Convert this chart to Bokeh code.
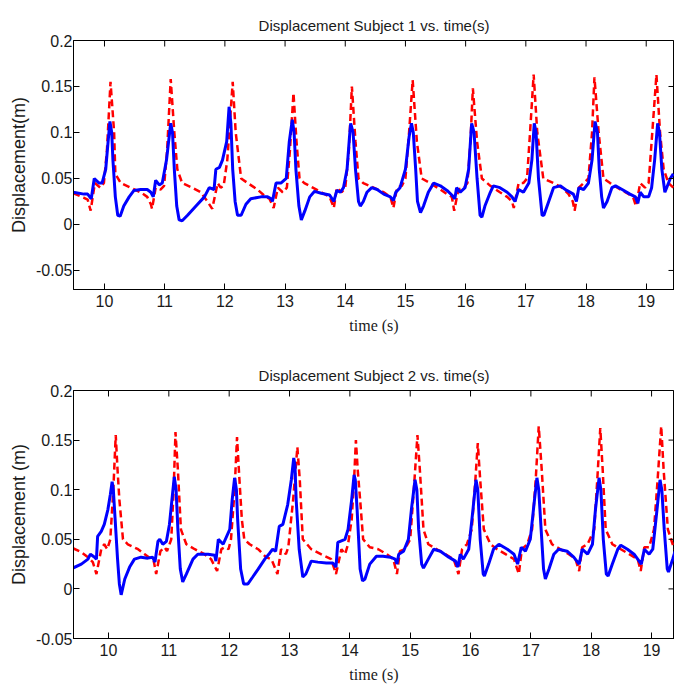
import math
from bokeh.plotting import figure
from bokeh.layouts import column
from bokeh.models import Range1d, FixedTicker
from bokeh.embed import file_html
from bokeh.resources import INLINE

# ---------------- data ----------------
x_ticks = [10, 11, 12, 13, 14, 15, 16, 17, 18, 19]
y_ticks = [-0.05, 0, 0.05, 0.1, 0.15, 0.2]
y_tick_labels = ["-0.05", "0", "0.05", "0.1", "0.15", "0.2"]

titles = ["Displacement Subject 1 vs. time(s)", "Displacement Subject 2 vs. time(s)"]
ylabels = ["Displacement(m)", "Displacement (m)"]
xlabel = "time (s)"

# Subject 1, red dashed
s1_red_t = [9.48, 9.66, 9.72, 9.77, 9.84, 9.93, 9.99, 10.04, 10.10, 10.16, 10.18, 10.27, 10.43, 10.60, 10.71, 10.77, 10.79,
            10.85, 10.93, 10.99, 11.04, 11.10, 11.16, 11.21, 11.29, 11.46, 11.60, 11.71, 11.79,
            11.88, 11.93, 11.98, 12.04, 12.13, 12.18, 12.27, 12.38, 12.54, 12.68, 12.74, 12.81,
            12.88, 12.96, 13.03, 13.08, 13.14, 13.19, 13.24, 13.32, 13.46, 13.60, 13.74, 13.81,
            13.86, 13.94, 14.00, 14.06, 14.11, 14.17, 14.22, 14.30, 14.47, 14.64, 14.75, 14.80,
            14.86, 14.94, 15.00, 15.06, 15.12, 15.19, 15.27, 15.41, 15.58, 15.69, 15.77, 15.81,
            15.88, 15.97, 16.03, 16.08, 16.12, 16.19, 16.27, 16.41, 16.57, 16.69, 16.77, 16.80,
            16.88, 16.96, 17.02, 17.07, 17.13, 17.19, 17.29, 17.46, 17.60, 17.71, 17.78, 17.81,
            17.88, 17.96, 18.04, 18.10, 18.14, 18.21, 18.29, 18.40, 18.57, 18.71, 18.79, 18.83,
            18.90, 18.98, 19.04, 19.09, 19.17, 19.23, 19.29, 19.37, 19.45]
s1_red_v = [0.034, 0.029, 0.027, 0.015, 0.045, 0.040, 0.045, 0.080, 0.155, 0.100, 0.055, 0.045, 0.040, 0.035, 0.030, 0.022, 0.017,
            0.040, 0.038, 0.042, 0.080, 0.158, 0.100, 0.060, 0.045, 0.040, 0.035, 0.025, 0.017,
            0.045, 0.040, 0.042, 0.070, 0.155, 0.100, 0.050, 0.045, 0.038, 0.030, 0.028, 0.018,
            0.040, 0.035, 0.040, 0.080, 0.143, 0.090, 0.050, 0.045, 0.040, 0.035, 0.030, 0.018,
            0.040, 0.035, 0.040, 0.080, 0.150, 0.090, 0.050, 0.045, 0.040, 0.035, 0.030, 0.018,
            0.040, 0.042, 0.050, 0.100, 0.157, 0.090, 0.050, 0.045, 0.038, 0.033, 0.030, 0.015,
            0.038, 0.040, 0.045, 0.090, 0.148, 0.090, 0.050, 0.042, 0.035, 0.030, 0.025, 0.018,
            0.045, 0.045, 0.050, 0.100, 0.163, 0.100, 0.050, 0.045, 0.040, 0.033, 0.025, 0.015,
            0.040, 0.045, 0.050, 0.100, 0.160, 0.100, 0.050, 0.045, 0.038, 0.033, 0.028, 0.020,
            0.045, 0.040, 0.045, 0.090, 0.163, 0.100, 0.060, 0.045, 0.040]

# Subject 1, blue solid
s1_blue_t = [9.48, 9.66, 9.72, 9.78, 9.83, 9.91, 9.96, 10.02, 10.06, 10.09, 10.12, 10.14, 10.18, 10.22, 10.26, 10.32, 10.41,
             10.49, 10.60, 10.71, 10.77, 10.81, 10.85, 10.91, 10.96, 11.03, 11.10, 11.13, 11.16, 11.20, 11.24, 11.29,
             11.38, 11.52, 11.66, 11.74, 11.82, 11.85, 11.91, 11.96, 12.03, 12.07, 12.10, 12.13, 12.17, 12.21, 12.27,
             12.35, 12.43, 12.60, 12.71, 12.77, 12.79, 12.85, 12.93, 13.02, 13.07, 13.12, 13.15, 13.18, 13.23, 13.27,
             13.33, 13.41, 13.49, 13.60, 13.74, 13.81, 13.86, 13.92, 13.97, 14.03, 14.07, 14.09, 14.13, 14.17, 14.22,
             14.25, 14.30, 14.36, 14.44, 14.53, 14.64, 14.75, 14.80, 14.84, 14.91, 15.00, 15.06, 15.10, 15.13, 15.17,
             15.20, 15.25, 15.30, 15.38, 15.47, 15.58, 15.69, 15.77, 15.82, 15.85, 15.91, 15.99, 16.05, 16.08, 16.10,
             16.14, 16.19, 16.24, 16.27, 16.32, 16.41, 16.46, 16.57, 16.69, 16.77, 16.82, 16.88, 16.96, 17.05, 17.10,
             17.14, 17.17, 17.21, 17.27, 17.30, 17.38, 17.46, 17.57, 17.68, 17.79, 17.84, 17.88, 17.96, 18.04, 18.10,
             18.15, 18.19, 18.22, 18.26, 18.29, 18.35, 18.43, 18.49, 18.60, 18.73, 18.82, 18.86, 18.90, 18.96, 19.04,
             19.09, 19.14, 19.19, 19.22, 19.26, 19.31, 19.34, 19.40, 19.45]
s1_blue_v = [0.035, 0.033, 0.033, 0.028, 0.050, 0.045, 0.045, 0.060, 0.090, 0.112, 0.100, 0.070, 0.030, 0.010, 0.009, 0.020, 0.030,
             0.037, 0.038, 0.038, 0.035, 0.030, 0.048, 0.043, 0.045, 0.070, 0.110, 0.100, 0.060, 0.020, 0.005, 0.004,
             0.010, 0.020, 0.030, 0.040, 0.038, 0.060, 0.062, 0.070, 0.090, 0.128, 0.110, 0.060, 0.025, 0.010, 0.010,
             0.022, 0.028, 0.030, 0.030, 0.028, 0.025, 0.045, 0.045, 0.050, 0.090, 0.114, 0.100, 0.060, 0.020, 0.005,
             0.015, 0.030, 0.036, 0.034, 0.032, 0.025, 0.037, 0.035, 0.040, 0.060, 0.095, 0.110, 0.100, 0.060, 0.025,
             0.020, 0.025, 0.035, 0.040, 0.038, 0.033, 0.030, 0.026, 0.035, 0.040, 0.060, 0.095, 0.110, 0.100, 0.060,
             0.025, 0.013, 0.020, 0.035, 0.045, 0.042, 0.037, 0.032, 0.028, 0.040, 0.035, 0.040, 0.060, 0.090, 0.110,
             0.100, 0.050, 0.010, 0.008, 0.020, 0.035, 0.042, 0.040, 0.035, 0.030, 0.025, 0.038, 0.035, 0.045, 0.070,
             0.110, 0.100, 0.050, 0.010, 0.010, 0.025, 0.040, 0.042, 0.037, 0.033, 0.025, 0.040, 0.038, 0.045, 0.070,
             0.112, 0.100, 0.060, 0.030, 0.018, 0.025, 0.040, 0.042, 0.038, 0.033, 0.030, 0.023, 0.035, 0.030, 0.030,
             0.040, 0.070, 0.110, 0.100, 0.060, 0.035, 0.040, 0.050, 0.055]

# Subject 2, red dashed
s2_red_t = [9.41, 9.55, 9.66, 9.74, 9.80, 9.88, 9.93, 9.98, 10.03, 10.08, 10.12, 10.15, 10.18, 10.24, 10.32, 10.49, 10.60,
            10.71, 10.75, 10.79, 10.86, 10.93, 10.97, 11.04, 11.08, 11.11, 11.15, 11.20, 11.29, 11.43, 11.59, 11.70,
            11.80, 11.87, 11.93, 11.99, 12.03, 12.09, 12.13, 12.17, 12.21, 12.25, 12.34, 12.48, 12.61, 12.70, 12.80,
            12.86, 12.94, 12.98, 13.06, 13.13, 13.17, 13.22, 13.36, 13.52, 13.69, 13.77,
            13.86, 13.92, 13.97, 14.03, 14.07, 14.10, 14.13, 14.17, 14.22, 14.33, 14.47, 14.61, 14.72, 14.78,
            14.83, 14.91, 15.00, 15.06, 15.12, 15.16, 15.22, 15.30, 15.44, 15.58, 15.72, 15.80,
            15.86, 15.94, 16.02, 16.08, 16.12, 16.16, 16.22, 16.33, 16.44, 16.58, 16.72, 16.80,
            16.85, 16.94, 17.02, 17.08, 17.13, 17.18, 17.24, 17.35, 17.49, 17.63, 17.74, 17.80,
            17.85, 17.94, 18.05, 18.10, 18.15, 18.19, 18.24, 18.35, 18.49, 18.63, 18.77, 18.82,
            18.88, 18.96, 19.04, 19.10, 19.16, 19.20, 19.27, 19.35, 19.39]
s2_red_v = [0.041, 0.037, 0.032, 0.027, 0.015, 0.040, 0.045, 0.040, 0.050, 0.100, 0.155, 0.120, 0.090, 0.050, 0.045, 0.040, 0.035,
            0.030, 0.028, 0.015, 0.038, 0.042, 0.038, 0.050, 0.100, 0.158, 0.120, 0.060, 0.045, 0.040, 0.035, 0.030,
            0.018, 0.040, 0.042, 0.040, 0.050, 0.100, 0.153, 0.110, 0.070, 0.050, 0.045, 0.040, 0.032, 0.030, 0.015,
            0.040, 0.035, 0.042, 0.090, 0.143, 0.110, 0.050, 0.040, 0.035, 0.030, 0.015,
            0.040, 0.035, 0.045, 0.070, 0.110, 0.150, 0.120, 0.090, 0.050, 0.042, 0.040, 0.035, 0.030, 0.015,
            0.038, 0.040, 0.050, 0.100, 0.155, 0.120, 0.060, 0.045, 0.040, 0.035, 0.030, 0.015,
            0.040, 0.045, 0.060, 0.110, 0.147, 0.110, 0.060, 0.045, 0.040, 0.035, 0.030, 0.015,
            0.040, 0.045, 0.060, 0.110, 0.164, 0.120, 0.060, 0.045, 0.040, 0.035, 0.030, 0.018,
            0.042, 0.045, 0.060, 0.110, 0.162, 0.120, 0.060, 0.045, 0.040, 0.035, 0.030, 0.018,
            0.042, 0.042, 0.060, 0.110, 0.164, 0.120, 0.060, 0.045, 0.040]

# Subject 2, blue solid
s2_blue_t = [9.41, 9.55, 9.66, 9.70, 9.77, 9.80, 9.82, 9.88, 9.93, 9.99, 10.03, 10.06, 10.08, 10.11, 10.15, 10.18, 10.21,
             10.27, 10.35, 10.43, 10.54, 10.65, 10.73, 10.77, 10.82, 10.85, 10.90, 10.96, 11.01, 11.06, 11.09, 11.12,
             11.15, 11.19, 11.23, 11.29, 11.40, 11.48, 11.65, 11.76, 11.78, 11.82, 11.90, 12.01, 12.05, 12.09, 12.12,
             12.14, 12.19, 12.24, 12.31, 12.39, 12.48, 12.59, 12.67, 12.72, 12.77, 12.83, 12.89, 12.97, 13.03, 13.07,
             13.09, 13.11, 13.16, 13.22, 13.27, 13.36, 13.47, 13.61, 13.72, 13.77, 13.80,
             13.92, 13.97, 14.03, 14.07, 14.09, 14.12, 14.17, 14.21, 14.25, 14.33, 14.44, 14.55, 14.67, 14.75, 14.78,
             14.81, 14.89, 14.97, 15.02, 15.08, 15.11, 15.14, 15.19, 15.22, 15.30, 15.39, 15.50, 15.64, 15.75, 15.79,
             15.83, 15.88, 15.97, 16.04, 16.09, 16.12, 16.16, 16.21, 16.23, 16.30, 16.38, 16.47, 16.61, 16.72, 16.78,
             16.84, 16.91, 16.99, 17.06, 17.10, 17.13, 17.17, 17.21, 17.24, 17.30, 17.38, 17.46, 17.60, 17.71, 17.80,
             17.85, 17.94, 18.02, 18.07, 18.13, 18.16, 18.20, 18.25, 18.28, 18.35, 18.44, 18.49, 18.60, 18.71, 18.83,
             18.88, 18.96, 19.02, 19.09, 19.14, 19.17, 19.21, 19.26, 19.28, 19.35, 19.39]
s2_blue_v = [0.021, 0.025, 0.030, 0.035, 0.032, 0.030, 0.053, 0.058, 0.065, 0.080, 0.095, 0.108, 0.100, 0.070, 0.030, 0.005, -0.006,
             0.010, 0.022, 0.030, 0.032, 0.031, 0.032, 0.027, 0.048, 0.050, 0.045, 0.048, 0.065, 0.095, 0.113, 0.100,
             0.060, 0.020, 0.007, 0.015, 0.030, 0.035, 0.035, 0.034, 0.028, 0.050, 0.045, 0.060, 0.090, 0.112, 0.100,
             0.070, 0.020, 0.005, 0.005, 0.012, 0.020, 0.030, 0.036, 0.040, 0.038, 0.063, 0.065, 0.085, 0.110, 0.132,
             0.125, 0.090, 0.040, 0.012, 0.015, 0.028, 0.027, 0.026, 0.026, 0.022, 0.047,
             0.050, 0.060, 0.090, 0.115, 0.110, 0.080, 0.020, 0.008, 0.010, 0.025, 0.033, 0.033, 0.032, 0.030, 0.025,
             0.035, 0.038, 0.050, 0.080, 0.110, 0.100, 0.060, 0.025, 0.021, 0.030, 0.040, 0.038, 0.032, 0.028, 0.022,
             0.035, 0.030, 0.040, 0.080, 0.110, 0.100, 0.050, 0.015, 0.013, 0.025, 0.040, 0.045, 0.040, 0.035, 0.025,
             0.042, 0.038, 0.050, 0.090, 0.112, 0.100, 0.060, 0.020, 0.010, 0.020, 0.035, 0.040, 0.038, 0.032, 0.025,
             0.040, 0.035, 0.045, 0.080, 0.112, 0.100, 0.050, 0.015, 0.013, 0.025, 0.040, 0.044, 0.040, 0.035, 0.025,
             0.040, 0.035, 0.040, 0.080, 0.110, 0.100, 0.060, 0.020, 0.017, 0.030, 0.038]

x_ranges = [(9.485, 19.47), (9.42, 19.38)]
y_ranges = [(-0.0707, 0.2), (-0.05, 0.2)]

SANS = "Liberation Sans"
SERIF = "Liberation Serif"
TXT = "#1a1a1a"


def make_fig(i, red_t, red_v, blue_t, blue_v, height, b_top, b_bottom):
    x0, x1 = x_ranges[i]
    y0, y1 = y_ranges[i]
    p = figure(width=674, height=height,
               x_range=Range1d(x0, x1), y_range=Range1d(y0, y1),
               output_backend="svg", toolbar_location=None, title=titles[i],
               min_border_left=73, min_border_right=0,
               min_border_top=b_top, min_border_bottom=b_bottom)
    p.background_fill_color = "white"
    p.border_fill_color = "white"
    p.outline_line_color = "black"
    p.outline_line_width = 1
    p.xgrid.visible = False
    p.ygrid.visible = False

    p.title.align = "center"
    p.title.text_font = SANS
    p.title.text_font_size = "15px"
    p.title.text_font_style = "normal"
    p.title.text_color = TXT
    p.title.standoff = 14

    p.line(red_t, red_v, line_color="#ff0000", line_width=2.5, line_dash="7 4")
    p.line(blue_t, blue_v, line_color="#0000ff", line_width=3)

    # inward ticks on the top and right edges of the box (MATLAB style)
    p.ray(x=x_ticks, y=[y1] * len(x_ticks), length=6, length_units="screen",
          angle=-math.pi / 2, line_color="black", line_width=1)
    p.ray(x=[x1] * len(y_ticks), y=y_ticks, length=6, length_units="screen",
          angle=math.pi, line_color="black", line_width=1)

    p.xaxis.ticker = FixedTicker(ticks=x_ticks)
    p.yaxis.ticker = FixedTicker(ticks=y_ticks)
    p.yaxis.major_label_overrides = {v: s for v, s in zip(y_ticks, y_tick_labels)}
    for ax in p.xaxis + p.yaxis:
        ax.axis_line_color = "black"
        ax.major_tick_line_color = "black"
        ax.major_tick_in = 6
        ax.major_tick_out = 0
        ax.minor_tick_line_color = None
        ax.major_label_text_font = SANS
        ax.major_label_text_font_size = "16px"
        ax.major_label_text_color = TXT
    p.xaxis.major_label_standoff = 5
    p.yaxis.major_label_standoff = 1

    p.xaxis.axis_label = xlabel
    p.xaxis.axis_label_text_font = SERIF
    p.xaxis.axis_label_text_font_size = "16px"
    p.xaxis.axis_label_text_font_style = "normal"
    p.xaxis.axis_label_text_color = TXT
    p.xaxis.axis_label_standoff = 7

    p.yaxis.axis_label = ylabels[i]
    p.yaxis.axis_label_text_font = SANS
    p.yaxis.axis_label_text_font_size = "18px"
    p.yaxis.axis_label_text_font_style = "normal"
    p.yaxis.axis_label_text_color = TXT
    p.yaxis.axis_label_standoff = 4
    return p


p1 = make_fig(0, s1_red_t, s1_red_v, s1_blue_t, s1_blue_v, 340, 40, 51)
p2 = make_fig(1, s2_red_t, s2_red_v, s2_blue_t, s2_blue_v, 345, 50, 47)

layout = column(p1, p2, spacing=0)
open("out.html", "w").write(file_html(layout, INLINE))
